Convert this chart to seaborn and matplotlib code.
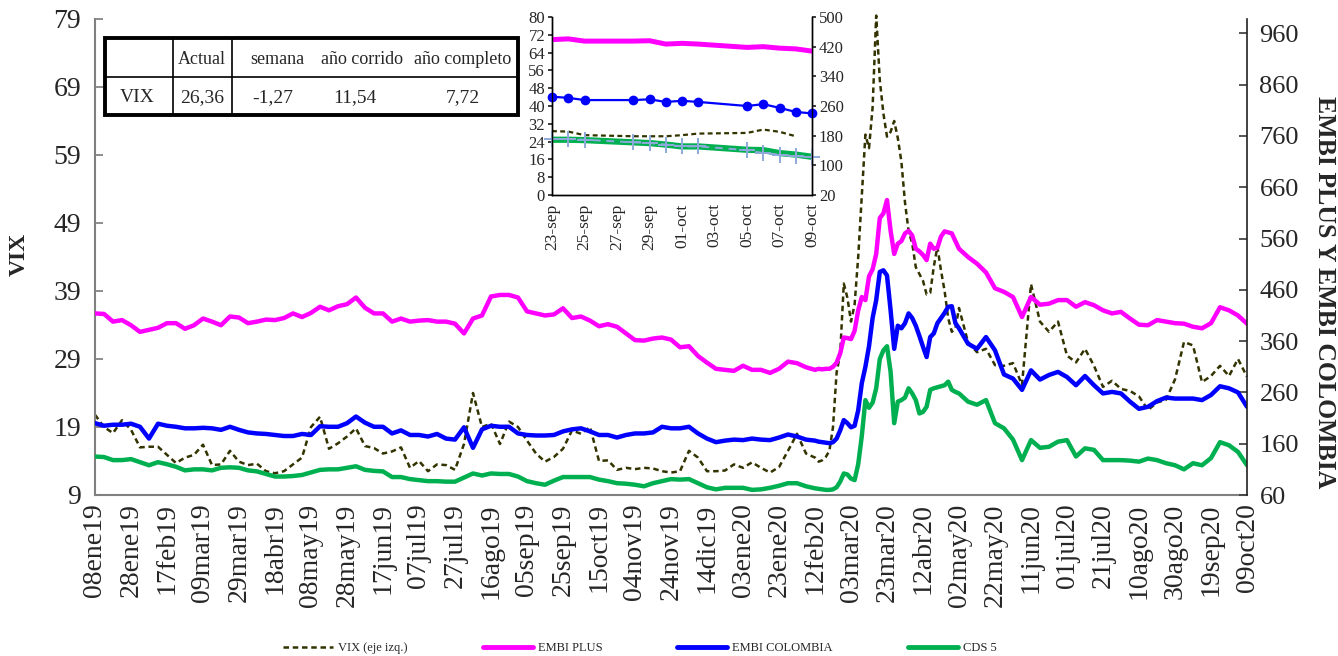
import numpy as np
import pandas as pd
import matplotlib
matplotlib.use("Agg")
import matplotlib.pyplot as plt
import seaborn as sns
from matplotlib.lines import Line2D
from matplotlib.patches import Rectangle

# ---------------- data ----------------
START = pd.Timestamp("2019-01-08")
day_offsets = list(range(0, 401, 5)) + list(range(402, 481, 2)) + list(range(485, 641, 5))

vix = [20.8, 19.0, 18.1, 20.0, 18.6, 16.0, 16.1, 16.1, 14.9, 13.7, 14.5, 14.9, 16.4, 13.4, 13.5, 15.5, 13.9, 13.4, 13.6, 12.5, 12.2, 12.5, 13.5, 14.5, 19.0, 20.5, 15.8,
       16.6, 17.6, 18.8, 16.2, 15.9, 15.1, 15.4, 16.0, 13.0, 14.0, 12.5, 13.5, 13.4, 12.7, 16.5, 24.0, 19.0, 19.5, 16.5, 19.8, 19.0, 17.0, 15.1, 13.9, 14.6, 15.8, 18.5,
       18.0, 19.0, 14.0, 14.1, 12.7, 13.0, 12.8, 13.0, 12.9, 12.5, 12.3, 12.5, 15.5, 14.5, 12.5, 12.5, 12.6, 13.5, 13.0, 13.8, 13.0, 12.3, 13.1, 15.5, 18.0, 15.1, 14.5,
       13.9, 14.1, 14.6, 15.5, 19.0, 27.0, 29.8, 40.1, 38.0, 34.5, 37.0, 44.0, 53.0, 62.0, 60.0, 66.0, 79.5, 70.0, 65.1, 61.7,
       62.4, 64.0, 61.5, 58.0, 52.0, 47.8, 46.0, 42.5, 41.5, 40.5, 38.5, 38.7, 42.6, 45.5, 42.0, 39.0, 35.0, 33.0, 33.5, 36.5,
       31.5, 30.0, 30.5, 28.1, 28.0, 28.4, 25.2, 40.0, 34.5, 33.0, 34.5, 29.5, 28.5, 30.5, 28.0, 24.9, 25.8, 24.6, 24.3, 23.5,
       21.5, 22.6, 23.0, 26.0, 31.5, 31.0, 25.6, 26.5, 28.0, 26.5, 29.0, 26.4]

embi_plus = [414, 413, 398, 401, 391, 378, 382, 386, 395, 395, 384, 391, 404, 398, 391, 408, 406, 395, 398, 402, 401, 405, 414, 407, 415, 427, 420,
             428, 432, 445, 425, 414, 414, 398, 404, 398, 400, 401, 398, 398, 394, 375, 404, 410, 447, 450, 450, 445, 418, 414, 410, 412, 424, 405,
             408, 400, 389, 393, 388, 375, 362, 361, 365, 367, 363, 348, 350, 331, 318, 306, 304, 302, 312, 304, 304, 298, 306, 320, 317, 309, 304,
             306, 305, 306, 306, 310, 318, 336, 367, 366, 364, 380, 420, 446, 440, 486, 500, 530, 600, 609, 635,
             575, 530, 550, 555, 570, 575, 566, 540, 535, 528, 518, 550, 540, 542, 564, 574, 572, 570, 555, 540,
             524, 511, 494, 463, 456, 446, 407, 446, 431, 433, 440, 440, 427, 436, 430, 420, 414, 417, 404, 392,
             391, 401, 398, 395, 394, 388, 385, 395, 426, 420, 410, 394]

embi_colombia = [200, 195, 197, 197, 199, 193, 170, 199, 195, 193, 190, 190, 191, 190, 187, 193, 187, 182, 180, 179, 177, 175, 175, 179, 177, 194, 193,
                 193, 200, 213, 201, 193, 193, 180, 186, 177, 177, 174, 179, 170, 168, 192, 152, 188, 195, 193, 193, 180, 177, 176, 176, 177, 184, 188,
                 190, 184, 177, 177, 172, 177, 180, 180, 182, 193, 190, 190, 193, 180, 170, 163, 166, 168, 167, 170, 168, 167, 172, 178, 174, 168, 166,
                 164, 163, 162, 161, 163, 170, 186, 206, 200, 192, 195, 225, 278, 310, 350, 405, 440, 495, 498, 488,
                 420, 345, 390, 385, 395, 414, 405, 390, 370, 349, 329, 368, 375, 395, 405, 415, 427, 428, 395, 385,
                 355, 345, 368, 342, 295, 287, 265, 303, 285, 294, 300, 290, 274, 292, 274, 258, 261, 258, 242, 228,
                 232, 243, 250, 248, 248, 248, 245, 255, 272, 268, 260, 232]

cds5 = [135, 134, 128, 128, 130, 124, 118, 124, 120, 115, 108, 110, 110, 108, 113, 114, 113, 108, 106, 101, 96, 96, 97, 99, 104, 109, 110,
        110, 113, 116, 109, 107, 106, 95, 95, 91, 89, 87, 87, 86, 86, 94, 102, 98, 102, 101, 101, 96, 87, 83, 80, 88, 95, 95,
        95, 95, 90, 87, 83, 82, 80, 77, 83, 87, 91, 90, 91, 83, 75, 71, 74, 74, 74, 70, 71, 74, 78, 83, 83, 77, 73,
        72, 71, 70, 70, 71, 75, 86, 102, 100, 92, 89, 120, 175, 245, 230, 240, 268, 325, 342, 350,
        300, 200, 242, 245, 250, 268, 258, 245, 219, 222, 232, 265, 268, 270, 272, 274, 281, 265, 261, 258,
        242, 236, 245, 200, 190, 168, 128, 167, 152, 154, 164, 167, 135, 151, 148, 128, 128, 128, 127, 125,
        131, 128, 122, 118, 110, 122, 118, 132, 163, 157, 144, 118]

tick_labels = ["08ene19", "28ene19", "17feb19", "09mar19", "29mar19", "18abr19", "08may19", "28may19",
               "17jun19", "07jul19", "27jul19", "16ago19", "05sep19", "25sep19", "15oct19", "04nov19",
               "24nov19", "14dic19", "03ene20", "23ene20", "12feb20", "03mar20", "23mar20", "12abr20",
               "02may20", "22may20", "11jun20", "01jul20", "21jul20", "10ago20", "30ago20", "19sep20", "09oct20"]

inset_dates = ["2020-09-23", "2020-09-24", "2020-09-25", "2020-09-28", "2020-09-29", "2020-09-30",
               "2020-10-01", "2020-10-02", "2020-10-05", "2020-10-06", "2020-10-07", "2020-10-08", "2020-10-09"]
inset_vix = [28.7, 28.5, 26.9, 26.4, 26.4, 26.4, 26.9, 27.6, 27.9, 29.4, 28.4, 26.4, np.nan]
inset_embi_plus = [439, 441, 435, 435, 436, 427, 429, 427, 418, 420, 416, 414, 408]
inset_embi_colombia = [285, 282, 276, 276, 278, 271, 274, 271, 260, 265, 255, 244, 240]
inset_cds5 = [169, 169, 168, 162, 160, 156, 151, 151, 142, 141, 133, 129, 123]
inset_cds_ref = [171, 171, 169, 162, 160, 156, 151, 151, 141, 133, 129, 124, 123]
inset_tick_labels = ["23-sep", "25-sep", "27-sep", "29-sep", "01-oct", "03-oct", "05-oct", "07-oct", "09-oct"]

table_header = ["", "Actual", "semana", "año corrido", "año completo"]
table_row = ["VIX", "26,36", "-1,27", "11,54", "7,72"]

legend_labels = ["VIX (eje izq.)", "EMBI PLUS", "EMBI COLOMBIA", "CDS 5"]

# ---------------- style ----------------
sns.set_theme(style="white")
plt.rcParams["font.family"] = ["Liberation Serif", "DejaVu Serif"]

C_VIX = "#333300"
C_PLUS = "#FF00FF"
C_COL = "#0000FF"
C_CDS = "#00B050"
C_LB = "#8EA9DB"
VIX_LS = (0, (2.2, 1.5))

W, H = 1338, 656
fig = plt.figure(figsize=(W / 100, H / 100), dpi=100)
fig.patch.set_facecolor("white")

df = pd.DataFrame({"fecha": START + pd.to_timedelta(day_offsets, unit="D"),
                   "vix": vix, "plus": embi_plus, "col": embi_colombia, "cds": cds5})

ax = fig.add_axes([95 / W, 1 - 495 / H, (1247 - 95) / W, (495 - 19) / H])
ax.set_facecolor("none")
sns.lineplot(data=df, x="fecha", y="vix", ax=ax, color=C_VIX, lw=1.8, linestyle=VIX_LS,
             estimator=None, sort=False, clip_on=False)
ax2 = ax.twinx()
sns.lineplot(data=df, x="fecha", y="plus", ax=ax2, color=C_PLUS, lw=3.2, estimator=None, sort=False)
sns.lineplot(data=df, x="fecha", y="col", ax=ax2, color=C_COL, lw=3.2, estimator=None, sort=False)
sns.lineplot(data=df, x="fecha", y="cds", ax=ax2, color=C_CDS, lw=3.2, estimator=None, sort=False)

ax.set_xlim(START, START + pd.Timedelta(days=640))
ax.set_ylim(9, 79)
ax2.set_ylim(60, 988)
ax.set_yticks(range(9, 80, 10))
ax2.set_yticks(range(60, 961, 100))
tick_dates = [START + pd.Timedelta(days=20 * i) for i in range(len(tick_labels))]
ax.set_xticks(tick_dates)
ax.set_xticklabels(tick_labels, rotation=90, fontsize=20)
ax.tick_params(axis="y", labelsize=20, direction="in", length=6, color="#808080", pad=10)
ax.tick_params(axis="x", direction="in", length=7, color="#808080", pad=6)
ax2.tick_params(axis="y", labelsize=19, direction="in", length=6, color="#404040", pad=9)
for a in (ax, ax2):
    a.set_xlabel("")
    a.set_ylabel("")
    a.spines["top"].set_visible(False)
    a.grid(False)
ax.spines["left"].set_color("#808080")
ax.spines["left"].set_linewidth(1.5)
ax.spines["bottom"].set_color("#808080")
ax.spines["bottom"].set_linewidth(1.5)
ax.spines["right"].set_visible(False)
ax2.spines["left"].set_visible(False)
ax2.spines["bottom"].set_visible(False)
ax2.spines["right"].set_color("#222222")
ax2.spines["right"].set_linewidth(1.2)

fig.text(19 / W, 1 - 254 / H, "VIX", rotation=90, ha="center", va="center",
         fontsize=17, fontweight="bold")
fig.text(1324 / W, 1 - 292 / H, "EMBI PLUS Y EMBI COLOMBIA", rotation=270, ha="center",
         va="center", fontsize=18.5, fontweight="bold")

# legend
handles = [Line2D([0], [0], color=C_VIX, lw=1.8, linestyle=VIX_LS),
           Line2D([0], [0], color=C_PLUS, lw=3.5),
           Line2D([0], [0], color=C_COL, lw=3.5),
           Line2D([0], [0], color=C_CDS, lw=3.5)]
fig.legend(handles, legend_labels, loc="center", bbox_to_anchor=(640 / W, 1 - 648 / H), ncol=4,
           frameon=False, fontsize=9, handlelength=4, columnspacing=6.0, handletextpad=0.4)

# ---------------- inset ----------------
dfi = pd.DataFrame({"fecha": pd.to_datetime(inset_dates), "vix": inset_vix, "plus": inset_embi_plus,
                    "col": inset_embi_colombia, "cds": inset_cds5, "cdsb": inset_cds_ref})
axi = fig.add_axes([552 / W, 1 - 195 / H, (812 - 552) / W, (195 - 17) / H])
axi.set_facecolor("none")
sns.lineplot(data=dfi, x="fecha", y="vix", ax=axi, color=C_VIX, lw=1.6, linestyle=(0, (2.2, 1.5)),
             estimator=None, sort=False)
axi2 = axi.twinx()
sns.lineplot(data=dfi, x="fecha", y="plus", ax=axi2, color=C_PLUS, lw=3.6, estimator=None, sort=False)
sns.lineplot(data=dfi, x="fecha", y="col", ax=axi2, color=C_COL, lw=1.6, marker="o", markersize=7,
             markeredgewidth=0, estimator=None, sort=False, clip_on=False)
sns.lineplot(data=dfi, x="fecha", y="cds", ax=axi2, color=C_CDS, lw=4.5, estimator=None, sort=False)
sns.lineplot(data=dfi, x="fecha", y="cdsb", ax=axi2, color=C_LB, lw=1.4, linestyle=(0, (4, 3)),
             marker="+", markersize=12, markeredgewidth=1.4, markeredgecolor=C_LB,
             estimator=None, sort=False, clip_on=False)
axi.set_xlim(pd.Timestamp("2020-09-23"), pd.Timestamp("2020-10-09"))
axi.set_ylim(0, 80)
axi2.set_ylim(20, 500)
axi.set_yticks(range(0, 81, 8))
axi2.set_yticks(range(20, 501, 80))
inset_ticks = [pd.Timestamp("2020-09-23") + pd.Timedelta(days=2 * i) for i in range(len(inset_tick_labels))]
axi.set_xticks(inset_ticks)
axi.set_xticklabels(inset_tick_labels, rotation=90, fontsize=12.5)
axi.tick_params(axis="y", labelsize=12, direction="out", length=3, pad=2)
axi.tick_params(axis="x", direction="out", length=3, pad=3)
axi2.tick_params(axis="y", labelsize=12, direction="out", length=3, pad=2)
for a in (axi, axi2):
    a.set_xlabel("")
    a.set_ylabel("")
    a.spines["top"].set_visible(False)
    a.grid(False)
    for s in ("left", "right", "bottom"):
        a.spines[s].set_color("black")
        a.spines[s].set_linewidth(1.0)

# ---------------- table ----------------
ov = fig.add_axes([0, 0, 1, 1], zorder=10)
ov.set_xlim(0, W)
ov.set_ylim(H, 0)
ov.axis("off")
ov.patch.set_alpha(0)
ov.add_patch(Rectangle((105, 38), 413, 77, facecolor="white", edgecolor="black", lw=2.8))
ov.add_line(Line2D([105, 518], [77, 77], color="black", lw=1.2))
ov.add_line(Line2D([173, 173], [38, 115], color="black", lw=1.2))
ov.add_line(Line2D([232, 232], [38, 115], color="black", lw=1.2))
for cx, txt in zip([139, 202, 277, 362, 463], table_header):
    ov.text(cx, 59, txt, ha="center", va="center", fontsize=13)
for cx, txt in zip([137, 202, 273, 355, 463], table_row):
    ov.text(cx, 98, txt, ha="center", va="center", fontsize=14)

fig.savefig("out.png", dpi=100)
